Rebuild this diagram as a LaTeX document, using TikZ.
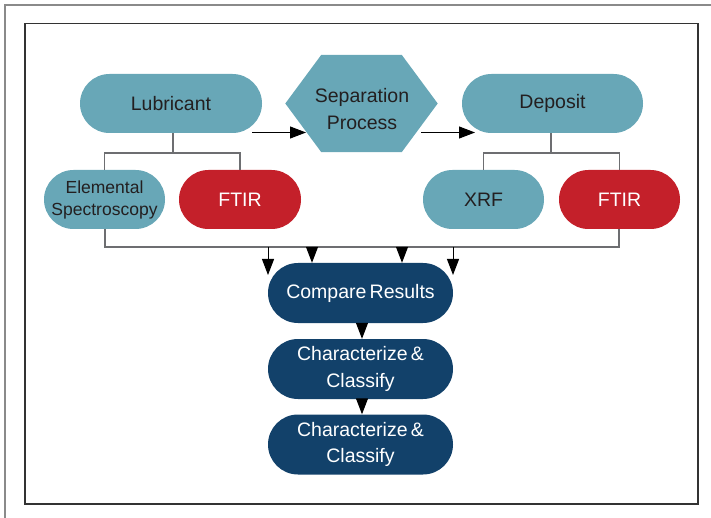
\documentclass[tikz,border=0pt]{standalone}
\usepackage{fontspec}
\setmainfont{Liberation Sans}
\usetikzlibrary{arrows.meta}
\definecolor{tealc}{HTML}{68A7B7}
\definecolor{redc}{HTML}{C4202A}
\definecolor{bluec}{HTML}{12416A}
\definecolor{txtc}{HTML}{231F20}
\definecolor{treec}{HTML}{6D6E71}
\definecolor{outerc}{HTML}{8A8A8A}
\definecolor{innerc}{HTML}{333333}
\tikzset{
  pill/.style={rectangle, rounded corners=29.5pt, minimum height=59pt, inner sep=0pt, align=center,
    font=\fontsize{19.5}{26.7}\selectfont},
  tealpill/.style={pill, fill=tealc, text=txtc},
  redpill/.style={pill, fill=redc, text=white},
  bluepill/.style={pill, fill=bluec, text=white, minimum height=60pt, rounded corners=30pt, minimum width=185pt},
  tree/.style={draw=treec, line width=1.2pt},
  arr/.style={draw=black, line width=1pt, -{Triangle[length=16pt,width=12pt]}},
}
\begin{document}
\begin{tikzpicture}[x=1pt,y=-1pt]
\useasboundingbox (0,0) rectangle (711,518);
% frames
\draw[outerc, line width=1.6pt] (5,518) -- (5,5) -- (711,5);
\draw[innerc, line width=1.3pt] (25,23.5) rectangle (698,504);

% top row
\node[tealpill, minimum width=182pt] (lub) at (171,103.5) {Lubricant};
\node[tealpill, minimum width=181pt] (dep) at (552.5,103.5) {Deposit};
\node[inner sep=0pt, minimum width=152pt, minimum height=97pt] (sep) at (361.5,103.5) {};
\fill[tealc] (sep.west) -- ([xshift=36pt]sep.north west) -- ([xshift=-36pt]sep.north east)
  -- (sep.east) -- ([xshift=-36pt]sep.south east) -- ([xshift=36pt]sep.south west) -- cycle;
\node[align=center, text=txtc, font=\fontsize{19.5}{26.7}\selectfont] (septxt) at (362,109) {Separation\\Process};

% second row
\node[tealpill, minimum width=121pt, font=\fontsize{17.5}{22}\selectfont] (elem) at (104.5,199.5) {Elemental\\Spectroscopy};
\node[redpill, minimum width=122pt] (ftir1) at (240,199.5) {FTIR};
\node[tealpill, minimum width=121pt] (xrf) at (483.5,199.5) {XRF};
\node[redpill, minimum width=121pt] (ftir2) at (619.5,199.5) {FTIR};

% bottom column
\node[bluepill] (cmp) at (360.5,293) {Compare\,Results};
\node[bluepill] (ch1) at (360.5,369) {Characterize\,\&\\Classify};
\node[bluepill] (ch2) at (360.5,444.5) {Characterize\,\&\\Classify};

% horizontal arrows
\coordinate (a1s) at (252,132.5);
\coordinate (a1e) at (306,132.5);
\coordinate (a2s) at (421,132.5);
\coordinate (a2e) at (475,132.5);
\draw[arr] (a1s) -- (a1e);
\draw[arr] (a2s) -- (a2e);

% trees
\coordinate (lbr) at (173,153);
\coordinate (dbr) at (551,153);
\draw[tree] (lub.south -| lbr) -- (lbr);
\draw[tree] (elem.north) |- (lbr) -| (ftir1.north);
\draw[tree] (dep.south -| dbr) -- (dbr);
\draw[tree] (xrf.north) |- (dbr) -| (ftir2.north);

% bus
\coordinate (busl) at (105,247);
\coordinate (busr) at (619,247);
\draw[tree] (elem.south -| busl) -- (busl) -- (busr) -- (ftir2.south -| busr);

% arrows down
\coordinate (d1) at (268,247);
\coordinate (d1e) at (268,275);
\coordinate (d2) at (312,247);
\coordinate (d3) at (402,247);
\coordinate (d4) at (453,247);
\coordinate (d4e) at (453,275);
\draw[arr] (d1) -- (d1e);
\draw[arr] (d2) -- (d2 |- cmp.north);
\draw[arr] (d3) -- (d3 |- cmp.north);
\draw[arr] (d4) -- (d4e);

\draw[arr] ([xshift=1.5pt]cmp.south) -- ([xshift=1.5pt]ch1.north);
\draw[arr] ([xshift=1.5pt]ch1.south) -- ([xshift=1.5pt]ch2.north);
\end{tikzpicture}
\end{document}
